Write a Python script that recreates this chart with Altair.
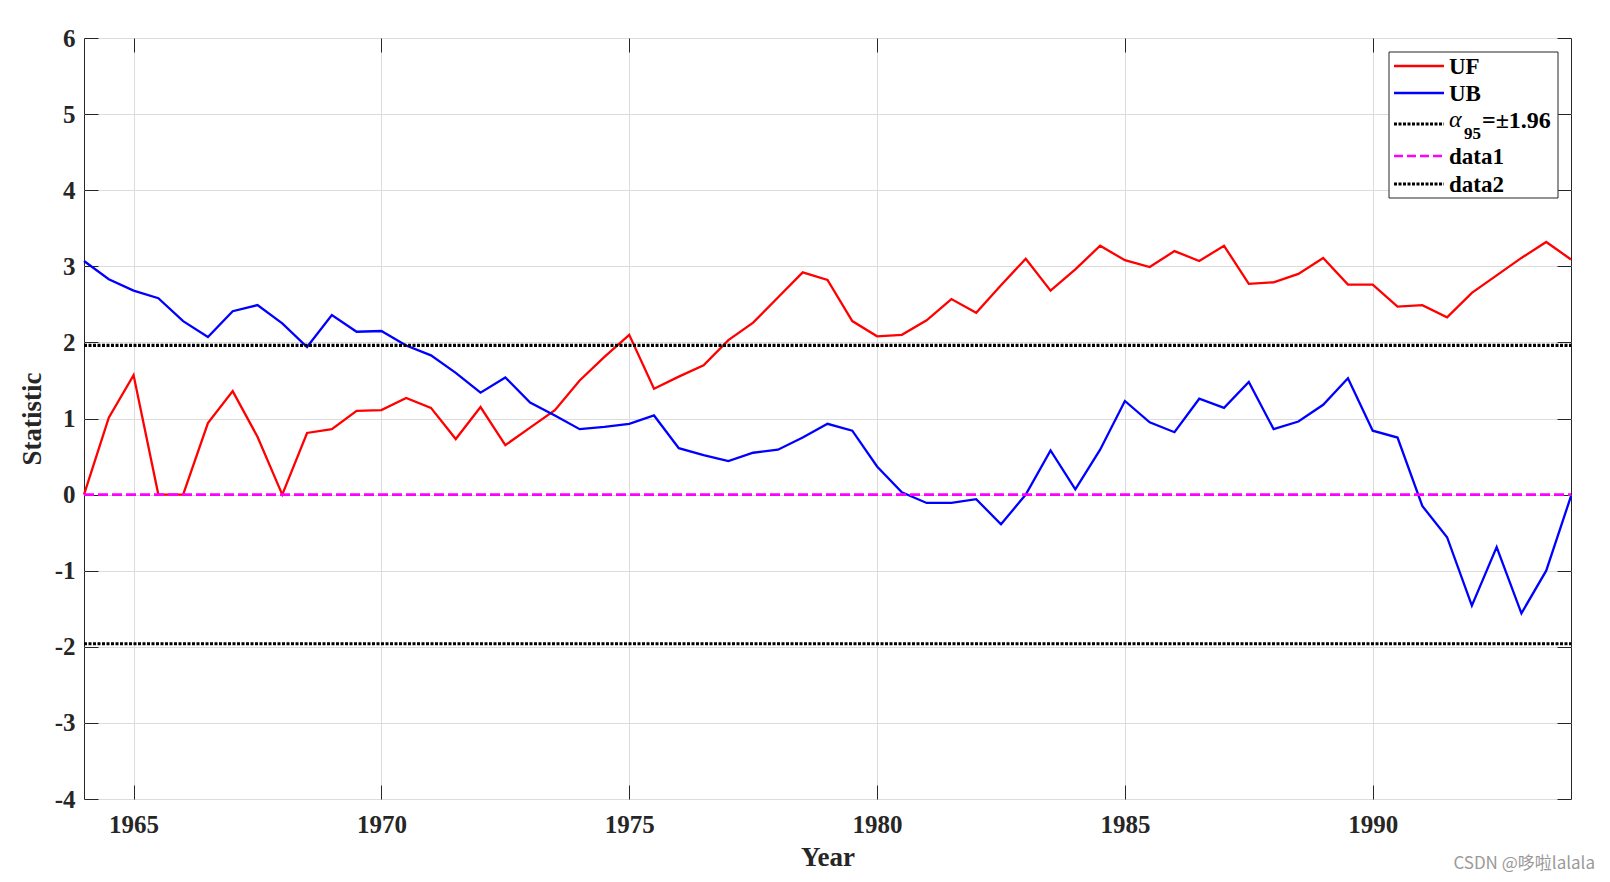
import altair as alt
import pandas as pd

# ---------------- data ----------------
years = [1964.0, 1964.5, 1965.0, 1965.5, 1966.0, 1966.5, 1967.0, 1967.5, 1968.0, 1968.5,
         1969.0, 1969.5, 1970.0, 1970.5, 1971.0, 1971.5, 1972.0, 1972.5, 1973.0, 1973.5,
         1974.0, 1974.5, 1975.0, 1975.5, 1976.0, 1976.5, 1977.0, 1977.5, 1978.0, 1978.5,
         1979.0, 1979.5, 1980.0, 1980.5, 1981.0, 1981.5, 1982.0, 1982.5, 1983.0, 1983.5,
         1984.0, 1984.5, 1985.0, 1985.5, 1986.0, 1986.5, 1987.0, 1987.5, 1988.0, 1988.5,
         1989.0, 1989.5, 1990.0, 1990.5, 1991.0, 1991.5, 1992.0, 1992.5, 1993.0, 1993.5,
         1994.0]

uf = [0.00, 1.01, 1.57, 0.00, 0.00, 0.94, 1.36, 0.76, 0.00, 0.81,
      0.86, 1.10, 1.11, 1.27, 1.14, 0.73, 1.15, 0.65, 0.88, 1.11,
      1.50, 1.81, 2.10, 1.39, 1.55, 1.70, 2.03, 2.26, 2.59, 2.92,
      2.82, 2.28, 2.08, 2.10, 2.29, 2.57, 2.39, 2.75, 3.10, 2.68,
      2.96, 3.27, 3.08, 2.99, 3.20, 3.07, 3.27, 2.77, 2.79, 2.90,
      3.11, 2.76, 2.76, 2.47, 2.49, 2.33, 2.65, 2.88, 3.11, 3.32,
      3.09]

ub = [3.07, 2.83, 2.68, 2.58, 2.28, 2.07, 2.41, 2.49, 2.25, 1.94,
      2.36, 2.14, 2.15, 1.96, 1.83, 1.60, 1.34, 1.54, 1.21, 1.04,
      0.86, 0.89, 0.93, 1.04, 0.61, 0.52, 0.44, 0.55, 0.59, 0.75,
      0.93, 0.84, 0.37, 0.03, -0.11, -0.11, -0.06, -0.39, 0.00, 0.58,
      0.07, 0.59, 1.23, 0.95, 0.82, 1.26, 1.14, 1.48, 0.86, 0.96,
      1.18, 1.53, 0.84, 0.75, -0.15, -0.56, -1.46, -0.69, -1.56, -1.00,
      -0.02]

alpha_level = 1.96
x_ticks = [1965, 1970, 1975, 1980, 1985, 1990]
y_ticks = [-4, -3, -2, -1, 0, 1, 2, 3, 4, 5, 6]
x_domain = [1964, 1994]
y_domain = [-4, 6]

legend_labels = ["UF", "UB", "α", "data1", "data2"]

# ---------------- frames ----------------
df_uf = pd.DataFrame({"year": years, "value": uf})
df_ub = pd.DataFrame({"year": years, "value": ub})
df_ref = pd.concat([
    pd.DataFrame({"year": years, "value": [alpha_level] * len(years), "series": "alpha95"}),
    pd.DataFrame({"year": years, "value": [-alpha_level] * len(years), "series": "data2"}),
])
df_zero = pd.DataFrame({"year": years, "value": [0.0] * len(years)})

# ---------------- styling ----------------
W, H = 1487, 761
FONT = "Liberation Serif"
AX = "#262626"
GRID = "#dcdcdc"
TICK = 14

xs = alt.Scale(domain=x_domain, nice=False, zero=False)
ys = alt.Scale(domain=y_domain, nice=False, zero=False)

x_bottom = alt.Axis(values=x_ticks, labelExpr="'' + datum.value", grid=True, gridColor=GRID,
                    gridWidth=1, domain=False, ticks=True, tickSize=TICK, offset=-TICK,
                    tickColor=AX, labelFont=FONT, labelFontWeight="bold", labelFontSize=25,
                    labelColor=AX, labelPadding=13, title="Year", titleFont=FONT,
                    titleFontWeight="bold", titleFontSize=27, titleColor=AX, titlePadding=7)
y_left = alt.Axis(values=y_ticks, labelExpr="'' + datum.value", grid=True, gridColor=GRID,
                  gridWidth=1, domain=False, ticks=True, tickSize=TICK, offset=-TICK,
                  tickColor=AX, labelFont=FONT, labelFontWeight="bold", labelFontSize=25,
                  labelColor=AX, labelPadding=9, title="Statistic", titleFont=FONT,
                  titleFontWeight="bold", titleFontSize=27, titleColor=AX, titlePadding=8)
x_top = alt.Axis(orient="top", values=x_ticks, grid=False, domain=False, labels=False,
                 ticks=True, tickSize=TICK, offset=-TICK, tickColor=AX, title=None)
y_right = alt.Axis(orient="right", values=y_ticks, grid=False, domain=False, labels=False,
                   ticks=True, tickSize=TICK, offset=-TICK, tickColor=AX, title=None)

uf_line = alt.Chart(df_uf).mark_line(color="#ff0000", strokeWidth=2.3).encode(
    x=alt.X("year:Q", scale=xs, axis=x_bottom),
    y=alt.Y("value:Q", scale=ys, axis=y_left),
)
ub_line = alt.Chart(df_ub).mark_line(color="#0000ff", strokeWidth=2.3).encode(
    x=alt.X("year:Q", scale=xs, axis=None),
    y=alt.Y("value:Q", scale=ys, axis=None),
)
zero_line = alt.Chart(df_zero).mark_line(color="#ff00ff", strokeWidth=2.6, strokeDash=[10, 4]).encode(
    x=alt.X("year:Q", scale=xs, axis=None),
    y=alt.Y("value:Q", scale=ys, axis=None),
)
ref_lines = alt.Chart(df_ref).mark_line(color="#000000", strokeWidth=3.2, strokeDash=[3, 1.5]).encode(
    x=alt.X("year:Q", scale=xs, axis=x_top),
    y=alt.Y("value:Q", scale=ys, axis=y_right),
    detail="series:N",
)

# ---------------- legend (manual, inside plot) ----------------
one = pd.DataFrame({"k": [0]})
LX0, LX1 = 1305, 1474
LY0, LY1 = 14, 160
SX0, SX1 = 1310, 1360
TX = 1365
rows_y = [28, 55, 86, 118, 146]
sym_color = ["#ff0000", "#0000ff", "#000000", "#ff00ff", "#000000"]
sym_dash = [[1, 0], [1, 0], [3, 1.5], [9, 4], [3, 1.5]]
sym_width = [2.3, 2.3, 3, 2.6, 3]

legend_layers = [
    alt.Chart(one).mark_rect(fill="white", stroke=AX, strokeWidth=1).encode(
        x=alt.value(LX0), x2=alt.value(LX1), y=alt.value(LY0), y2=alt.value(LY1))
]
for i, lab in enumerate(legend_labels):
    legend_layers.append(
        alt.Chart(one).mark_rule(color=sym_color[i], strokeWidth=sym_width[i],
                                 strokeDash=sym_dash[i]).encode(
            x=alt.value(SX0), x2=alt.value(SX1), y=alt.value(rows_y[i]))
    )
    if lab == "α":
        legend_layers.append(
            alt.Chart(one).mark_text(font=FONT, fontStyle="italic", fontSize=24, align="left",
                                     baseline="alphabetic", color="#000000").encode(
                x=alt.value(TX), y=alt.value(rows_y[i] + 3), text=alt.value("α")))
        legend_layers.append(
            alt.Chart(one).mark_text(font=FONT, fontWeight="bold", fontSize=17, align="left",
                                     baseline="alphabetic", color="#000000").encode(
                x=alt.value(TX + 15), y=alt.value(rows_y[i] + 15), text=alt.value("95")))
        legend_layers.append(
            alt.Chart(one).mark_text(font=FONT, fontWeight="bold", fontSize=24, align="left",
                                     baseline="alphabetic", color="#000000").encode(
                x=alt.value(TX + 33), y=alt.value(rows_y[i] + 4), text=alt.value("=±1.96")))
    else:
        legend_layers.append(
            alt.Chart(one).mark_text(font=FONT, fontWeight="bold", fontSize=23, align="left",
                                     baseline="alphabetic", color="#000000").encode(
                x=alt.value(TX), y=alt.value(rows_y[i] + 8), text=alt.value(lab)))

watermark = alt.Chart(one).mark_text(font="Noto Sans CJK SC", fontSize=17, align="right",
                                     baseline="middle", color="#9a9a9a").encode(
    x=alt.value(1511), y=alt.value(826), text=alt.value("CSDN @哆啦lalala"))

chart = alt.layer(
    uf_line, ub_line, zero_line, ref_lines, *legend_layers, watermark
).resolve_axis(
    x="independent", y="independent"
).properties(
    width=W, height=H,
    padding={"left": 84, "top": 38, "right": 39, "bottom": 83},
    autosize=alt.AutoSizeParams(type="none"),
    background="white",
).configure_view(
    stroke=AX, strokeWidth=1
)

chart.save("out.html", embed_options={"renderer": "svg", "actions": False})
